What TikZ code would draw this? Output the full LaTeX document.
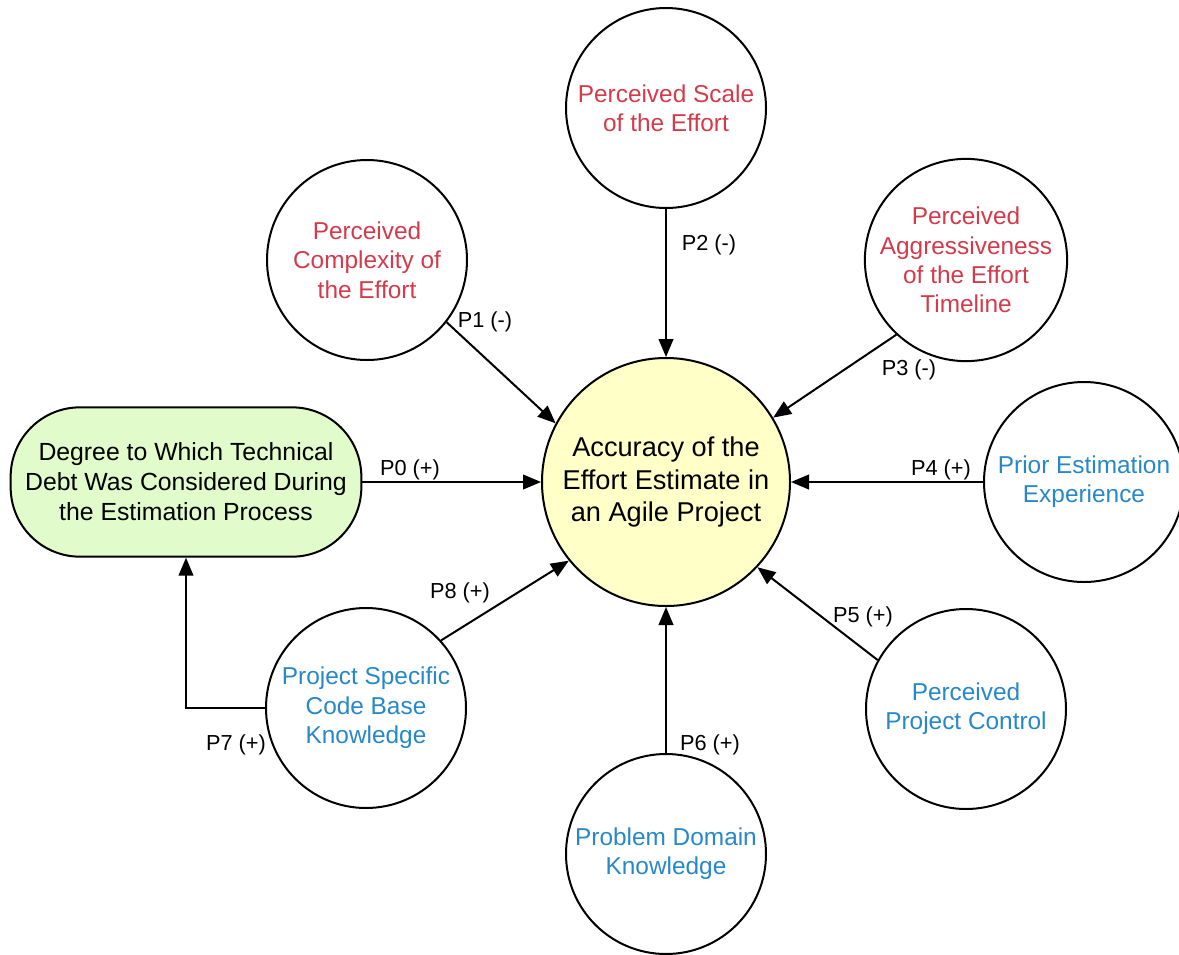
\documentclass[tikz,border=0pt]{standalone}
\usepackage{fontspec}
\setmainfont{Liberation Sans}
\usetikzlibrary{arrows.meta}

\definecolor{negred}{RGB}{212,58,74}
\definecolor{posblue}{RGB}{38,136,200}
\definecolor{accyellow}{RGB}{255,255,200}
\definecolor{debtgreen}{RGB}{226,251,202}

\begin{document}
\begin{tikzpicture}[x=0.75pt,y=-0.75pt,
	factor/.style={circle,draw,line width=1.5pt,minimum size=150pt,inner sep=0pt,
		align=center,font=\fontsize{18.3}{22}\selectfont},
	negfactor/.style={factor,text=negred},
	posfactor/.style={factor,text=posblue},
	link/.style={line width=1.5pt,-{Triangle[length=13.5pt,width=11pt]}},
	plabel/.style={font=\fontsize{16.3}{19}\selectfont}]
	% We will draw the factors and their links here
	\useasboundingbox (0,0) rectangle (1179,954);
	
	\node[circle,draw,line width=1.5pt,fill=accyellow,minimum size=186pt,inner sep=0pt,
		align=center,font=\fontsize{20.4}{24.5}\selectfont] (acc) at (666,482)
		{Accuracy of the\\Effort Estimate in\\an Agile Project};
	
	\node[negfactor] (scale) at (666,108) {Perceived Scale\\of the Effort};
	\node[negfactor] (cmplx) at (367,260) {Perceived\\Complexity of\\the Effort};
	\node[negfactor] (aggr) at (966,260) {Perceived\\Aggressiveness\\of the Effort\\Timeline};
	\node[posfactor] (prior) at (1084,482) {Prior Estimation\\Experience};
	\node[posfactor] (ctrl) at (966,709) {Perceived\\Project Control};
	\node[posfactor] (domain) at (666,854) {Problem Domain\\Knowledge};
	\node[posfactor] (cbk) at (366,708) {Project Specific\\Code Base\\Knowledge};
	
	\node[draw,line width=1.5pt,fill=debtgreen,rounded corners=52pt,minimum width=263pt,
		minimum height=112pt,align=center,font=\fontsize{18.6}{22.5}\selectfont] (tdebt) at (186,482)
		{Degree to Which Technical\\Debt Was Considered During\\the Estimation Process};
	
	\draw[link] (tdebt) -- (acc);
	\draw[link] (cmplx.-38) -- (acc.152);
	\draw[link] (scale) -- (acc);
	\draw[link] (aggr.-133) -- (acc.31);
	\draw[link] (prior) -- (acc);
	\draw[link] (ctrl.151) -- (acc.-43);
	\draw[link] (domain) -- (acc);
	\draw[link] (cbk.west) -| (tdebt.south);
	\draw[link] (cbk.42) -- (acc.-141);
	
	\node[plabel] (p0) at (410,470) {P0 (+)};
	\node[plabel] (p1) at (485,322) {P1 (-)};
	\node[plabel] (p2) at (709,245) {P2 (-)};
	\node[plabel] (p3) at (909,370) {P3 (-)};
	\node[plabel] (p4) at (941,470) {P4 (+)};
	\node[plabel] (p5) at (863,617) {P5 (+)};
	\node[plabel] (p6) at (710,745) {P6 (+)};
	\node[plabel] (p7) at (236,745) {P7 (+)};
	\node[plabel] (p8) at (460,593) {P8 (+)};
\end{tikzpicture}
\end{document}
